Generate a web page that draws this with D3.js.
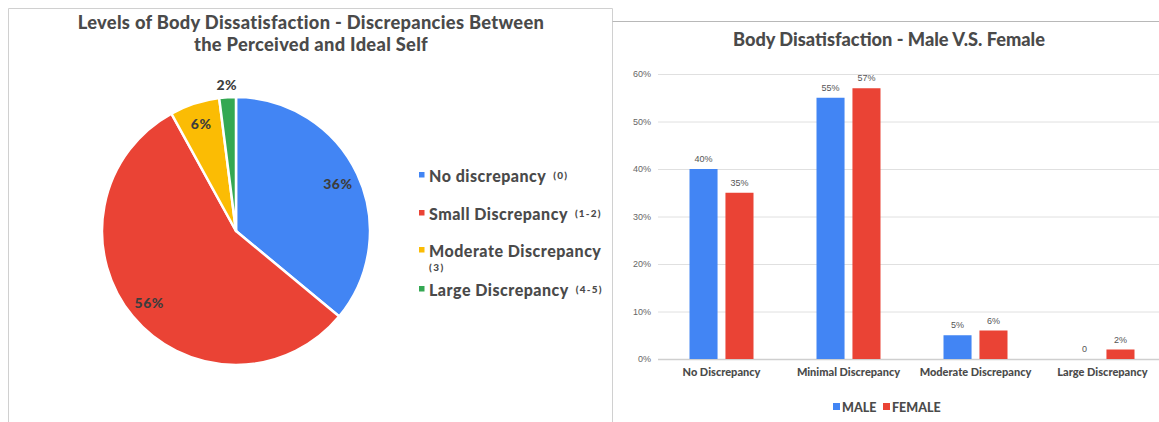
<!DOCTYPE html>
<html>
<head>
<meta charset="utf-8">
<script src="https://cdn.jsdelivr.net/npm/d3@7"></script>
<style>
  html, body { margin: 0; padding: 0; background: #fff; }
  svg { display: block; }
  .title { font-family: Lato, "Open Sans", sans-serif; font-weight: 900; fill: #4a4a4a; }
  .tick-label { font-family: "Liberation Sans", Arial, sans-serif; font-size: 9px; fill: #666; }
  .value-label { font-family: "Liberation Sans", Arial, sans-serif; font-size: 9px; fill: #555; }
  .cat-label { font-family: Lato, sans-serif; font-weight: 900; font-size: 11px; fill: #4a4a4a; }
  .legend-text { font-family: Lato, sans-serif; font-weight: 900; fill: #4a4a4a; }
  .pie-label { font-family: Lato, sans-serif; font-weight: 900; font-size: 14px; fill: #3d3d3d; }
</style>
</head>
<body>
<svg id="chart" width="1159" height="422"></svg>
<script>
// Pie: share of respondents per discrepancy level
const pieCategories = ["No discrepancy", "Small Discrepancy", "Moderate Discrepancy", "Large Discrepancy"];
const pieRanges = ["(0)", "(1-2)", "(3)", "(4-5)"];
const pieValues = [36, 56, 6, 2];
const pieColors = ["#4285F4", "#EA4335", "#FBBC04", "#34A853"];

// Grouped bars: male vs female by discrepancy level
const barCategories = ["No Discrepancy", "Minimal Discrepancy", "Moderate Discrepancy", "Large Discrepancy"];
const maleValues = [40, 55, 5, 0];
const femaleValues = [35, 57, 6, 2];
const maleLabels = ["40%", "55%", "5%", "0"];
const femaleLabels = ["35%", "57%", "6%", "2%"];
const seriesNames = ["MALE", "FEMALE"];
const seriesColors = ["#4285F4", "#EA4335"];
const yTicks = [0, 10, 20, 30, 40, 50, 60];

const svg = d3.select("#chart");

// Panel frames
svg.append("path")
  .attr("d", "M8.5,422 V8.5 H612.5 V422")
  .attr("fill", "none").attr("stroke", "#d0d0d0").attr("stroke-width", 1);
svg.append("path")
  .attr("d", "M612.5,21.5 H1159")
  .attr("fill", "none").attr("stroke", "#b8b8b8").attr("stroke-width", 1.2);

// ---------- Pie chart ----------
const pieTitle = svg.append("text").attr("class", "title")
  .attr("text-anchor", "middle").style("font-size", "18.3px").style("letter-spacing", "0.3px");
pieTitle.append("tspan").attr("x", 311).attr("y", 29)
  .text("Levels of Body Dissatisfaction - Discrepancies Between");
pieTitle.append("tspan").attr("x", 311).attr("y", 51)
  .text("the Perceived and Ideal Self");

const cx = 236, cy = 231, radius = 134;
const pieData = d3.pie().sort(null).value(d => d)(pieValues);
const arc = d3.arc().innerRadius(0).outerRadius(radius);
const gPie = svg.append("g").attr("transform", `translate(${cx},${cy})`);

gPie.selectAll("path.slice").data(pieData).join("path")
  .attr("class", "slice")
  .attr("d", arc)
  .attr("fill", (d, i) => pieColors[i])
  .attr("stroke", "#fff").attr("stroke-width", 2.5).attr("stroke-linejoin", "round");

// Labels sit inside the slice, small slices get pushed just outside
gPie.selectAll("text.pie-label").data(pieData).join("text")
  .attr("class", "pie-label")
  .attr("text-anchor", "middle").attr("dominant-baseline", "central")
  .style("letter-spacing", "0.5px")
  .attr("transform", d => {
    const span = d.endAngle - d.startAngle;
    const r = span < 0.2 ? radius + 13 : radius * 0.84;
    const a = (d.startAngle + d.endAngle) / 2;
    return `translate(${r * Math.sin(a)},${-r * Math.cos(a)})`;
  })
  .text(d => d.value + "%");

// Pie legend
const legendRows = [175, 213, 250, 289];
const gLeg = svg.append("g");
pieCategories.forEach((name, i) => {
  const y = legendRows[i];
  gLeg.append("rect").attr("x", 419).attr("y", y - 3).attr("width", 5.5).attr("height", 5.5)
    .attr("fill", pieColors[i]);
  const t = gLeg.append("text").attr("class", "legend-text")
    .attr("x", 429).attr("y", y).attr("dominant-baseline", "central")
    .style("font-size", "16px").style("letter-spacing", "0.5px");
  t.append("tspan").text(name);
  if (i === 2) {
    gLeg.append("text").attr("class", "legend-text")
      .attr("x", 429).attr("y", y + 17).attr("dominant-baseline", "central")
      .style("font-size", "10px").style("letter-spacing", "1.5px")
      .text(pieRanges[i]);
  } else {
    t.append("tspan").attr("dx", 7).style("font-size", "10px").style("letter-spacing", "1.2px")
      .text(pieRanges[i]);
  }
});

// ---------- Grouped bar chart ----------
svg.append("text").attr("class", "title")
  .attr("x", 889).attr("y", 46).attr("text-anchor", "middle")
  .style("font-size", "18.2px")
  .text("Body Disatisfaction - Male V.S. Female");

const x0 = d3.scaleBand().domain(barCategories).range([658, 1166]).paddingInner(0).paddingOuter(0);
const x1 = d3.scaleBand().domain(seriesNames).range([0, 64]).paddingInner(0.22);
const y = d3.scaleLinear().domain([0, 60]).range([359, 74]);

// Gridlines and percentage tick labels
const yAxis = d3.axisLeft(y).tickValues(yTicks).tickFormat(d => d + "%")
  .tickSize(-(1166 - 658)).tickPadding(7);
const gy = svg.append("g").attr("transform", "translate(658,0)").call(yAxis);
gy.select(".domain").remove();
gy.attr("font-family", null).attr("font-size", null);
gy.selectAll(".tick line").attr("stroke", "#e0e0e0").attr("stroke-width", 1);
gy.selectAll(".tick text").attr("class", "tick-label").attr("fill", null);
gy.selectAll(".tick").filter(d => d === 0).select("line").attr("stroke", "#cfcfcf").attr("stroke-width", 1.5);

const groups = barCategories.map((c, i) => ({
  cat: c,
  bars: [
    { s: seriesNames[0], v: maleValues[i], label: maleLabels[i], color: seriesColors[0] },
    { s: seriesNames[1], v: femaleValues[i], label: femaleLabels[i], color: seriesColors[1] }
  ]
}));

const gBars = svg.append("g");
const gGroup = gBars.selectAll("g.group").data(groups).join("g")
  .attr("class", "group")
  .attr("transform", d => `translate(${x0(d.cat) + (x0.bandwidth() - 64) / 2},0)`);

gGroup.selectAll("rect").data(d => d.bars).join("rect")
  .attr("x", d => x1(d.s))
  .attr("width", x1.bandwidth())
  .attr("y", d => y(d.v))
  .attr("height", d => y(0) - y(d.v))
  .attr("fill", d => d.color);

gGroup.selectAll("text.value-label").data(d => d.bars).join("text")
  .attr("class", "value-label")
  .attr("x", d => x1(d.s) + x1.bandwidth() / 2)
  .attr("y", d => y(d.v) - 7)
  .attr("text-anchor", "middle")
  .text(d => d.label);

// Category labels under the axis
const xAxis = d3.axisBottom(x0).tickSize(0).tickPadding(9);
const gx = svg.append("g").attr("transform", "translate(0,359)").call(xAxis);
gx.select(".domain").remove();
gx.attr("font-family", null).attr("font-size", null);
gx.selectAll(".tick text").attr("class", "cat-label").attr("fill", null);

// Series legend
const legX = [833, 883];
seriesNames.forEach((s, i) => {
  svg.append("rect").attr("x", legX[i]).attr("y", 403).attr("width", 7).attr("height", 7)
    .attr("fill", seriesColors[i]);
  svg.append("text").attr("class", "legend-text")
    .attr("x", legX[i] + 9).attr("y", 407).attr("dominant-baseline", "central")
    .style("font-size", "12.5px")
    .text(s);
});
</script>
</body>
</html>
